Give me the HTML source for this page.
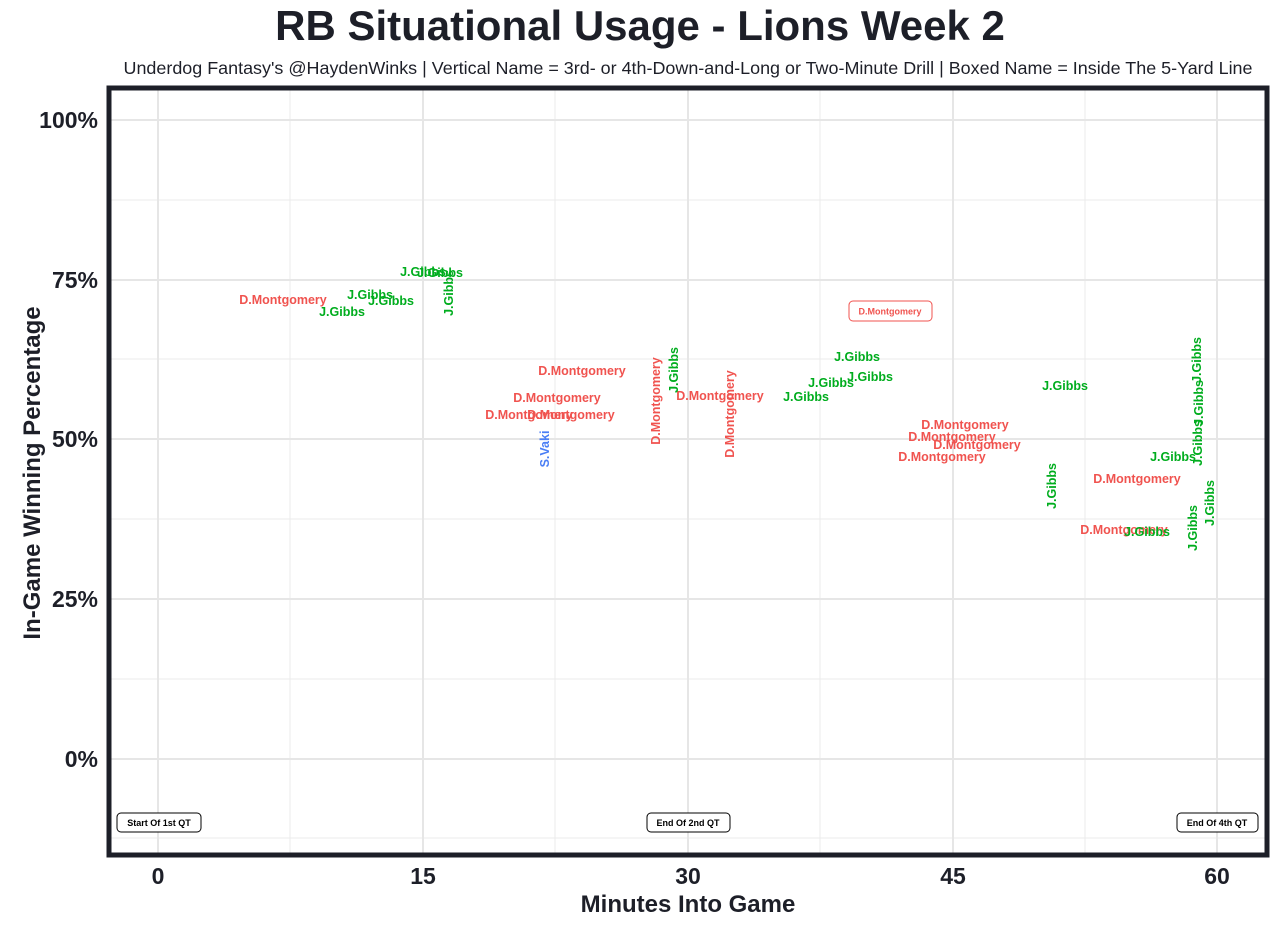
<!DOCTYPE html>
<html><head><meta charset="utf-8"><style>
body{margin:0;background:#fff;}
svg text{font-family:"Liberation Sans",Arial,sans-serif;}
.g{fill:#00ad1e;font-size:12.5px;font-weight:bold;}
.r{fill:#f0534f;font-size:12.5px;font-weight:bold;}
.b{fill:#4a7ef5;font-size:12.5px;font-weight:bold;}
.a{font-size:9px;font-weight:bold;fill:#000;}
</style></head><body>
<svg width="1280" height="926" xmlns="http://www.w3.org/2000/svg">
<text x="640" y="40" text-anchor="middle" font-size="42" font-weight="bold" fill="#1d1f28">RB Situational Usage - Lions Week 2</text>
<text x="688" y="74" text-anchor="middle" font-size="17.9" fill="#1d1f28" textLength="1129" lengthAdjust="spacingAndGlyphs">Underdog Fantasy's @HaydenWinks | Vertical Name = 3rd- or 4th-Down-and-Long or Two-Minute Drill | Boxed Name = Inside The 5-Yard Line</text>
<g stroke="#ebebeb" stroke-width="1">
<line x1="110" x2="1266" y1="200" y2="200"/><line x1="110" x2="1266" y1="359" y2="359"/><line x1="110" x2="1266" y1="519" y2="519"/><line x1="110" x2="1266" y1="679" y2="679"/><line x1="110" x2="1266" y1="838" y2="838"/>
<line y1="88" y2="854" x1="290" x2="290"/><line y1="88" y2="854" x1="555" x2="555"/><line y1="88" y2="854" x1="820" x2="820"/><line y1="88" y2="854" x1="1085" x2="1085"/>
</g>
<g stroke="#e6e6e6" stroke-width="2">
<line x1="110" x2="1266" y1="120" y2="120"/><line x1="110" x2="1266" y1="280" y2="280"/><line x1="110" x2="1266" y1="439" y2="439"/><line x1="110" x2="1266" y1="599" y2="599"/><line x1="110" x2="1266" y1="759" y2="759"/>
<line y1="88" y2="854" x1="158" x2="158"/><line y1="88" y2="854" x1="423" x2="423"/><line y1="88" y2="854" x1="688" x2="688"/><line y1="88" y2="854" x1="953" x2="953"/><line y1="88" y2="854" x1="1217" x2="1217"/>
</g>
<rect x="109" y="88" width="1158" height="767" fill="none" stroke="#1d1f28" stroke-width="5"/>
<g font-size="23" font-weight="bold" fill="#1d1f28" text-anchor="end">
<text x="98" y="128">100%</text><text x="98" y="288">75%</text><text x="98" y="447">50%</text><text x="98" y="607">25%</text><text x="98" y="767">0%</text>
</g>
<g font-size="23" font-weight="bold" fill="#1d1f28" text-anchor="middle">
<text x="158" y="884">0</text><text x="423" y="884">15</text><text x="688" y="884">30</text><text x="953" y="884">45</text><text x="1217" y="884">60</text>
<text x="688" y="912" font-size="24">Minutes Into Game</text>
<text transform="translate(40,473) rotate(-90)" font-size="24">In-Game Winning Percentage</text>
</g>
<g text-anchor="middle">
<text class="r" x="283" y="304">D.Montgomery</text>
<text class="g" x="370" y="299">J.Gibbs</text>
<text class="g" x="391" y="305">J.Gibbs</text>
<text class="g" x="342" y="316">J.Gibbs</text>
<text class="g" x="423" y="276">J.Gibbs</text>
<text class="g" x="440" y="277">J.Gibbs</text>
<text class="r" x="582" y="375">D.Montgomery</text>
<text class="r" x="557" y="402">D.Montgomery</text>
<text class="r" x="529" y="419">D.Montgomery</text>
<text class="r" x="571" y="419">D.Montgomery</text>
<text class="r" x="720" y="400">D.Montgomery</text>
<text class="g" x="857" y="361">J.Gibbs</text>
<text class="g" x="870" y="381">J.Gibbs</text>
<text class="g" x="831" y="387">J.Gibbs</text>
<text class="g" x="806" y="401">J.Gibbs</text>
<text class="g" x="1065" y="390">J.Gibbs</text>
<text class="r" x="965" y="429">D.Montgomery</text>
<text class="r" x="952" y="441">D.Montgomery</text>
<text class="r" x="977" y="449">D.Montgomery</text>
<text class="r" x="942" y="461">D.Montgomery</text>
<text class="g" x="1173" y="461">J.Gibbs</text>
<text class="r" x="1137" y="483">D.Montgomery</text>
<text class="r" x="1124" y="534">D.Montgomery</text>
<text class="g" x="1147" y="536">J.Gibbs</text>
<rect x="849" y="301" width="83" height="20" rx="4" fill="#fff" stroke="#f0534f"/>
<text x="890" y="314.5" font-size="9" font-weight="bold" fill="#f0534f">D.Montgomery</text>
<text class="g" transform="translate(453,293) rotate(-90)">J.Gibbs</text>
<text class="b" transform="translate(549,449) rotate(-90)">S.Vaki</text>
<text class="r" transform="translate(660,401) rotate(-90)">D.Montgomery</text>
<text class="g" transform="translate(678,370) rotate(-90)">J.Gibbs</text>
<text class="r" transform="translate(734,414) rotate(-90)">D.Montgomery</text>
<text class="g" transform="translate(1056,486) rotate(-90)">J.Gibbs</text>
<text class="g" transform="translate(1201,360) rotate(-90)">J.Gibbs</text>
<text class="g" transform="translate(1203,403) rotate(-90)">J.Gibbs</text>
<text class="g" transform="translate(1202,443) rotate(-90)">J.Gibbs</text>
<text class="g" transform="translate(1197,528) rotate(-90)">J.Gibbs</text>
<text class="g" transform="translate(1214,503) rotate(-90)">J.Gibbs</text>
</g>
<g text-anchor="middle">
<rect x="117" y="813" width="84" height="19" rx="4" fill="#fff" stroke="#000"/>
<text class="a" x="159" y="826">Start Of 1st QT</text>
<rect x="647" y="813" width="83" height="19" rx="4" fill="#fff" stroke="#000"/>
<text class="a" x="688" y="826">End Of 2nd QT</text>
<rect x="1177" y="813" width="81" height="19" rx="4" fill="#fff" stroke="#000"/>
<text class="a" x="1217" y="826">End Of 4th QT</text>
</g>
</svg>
</body></html>
